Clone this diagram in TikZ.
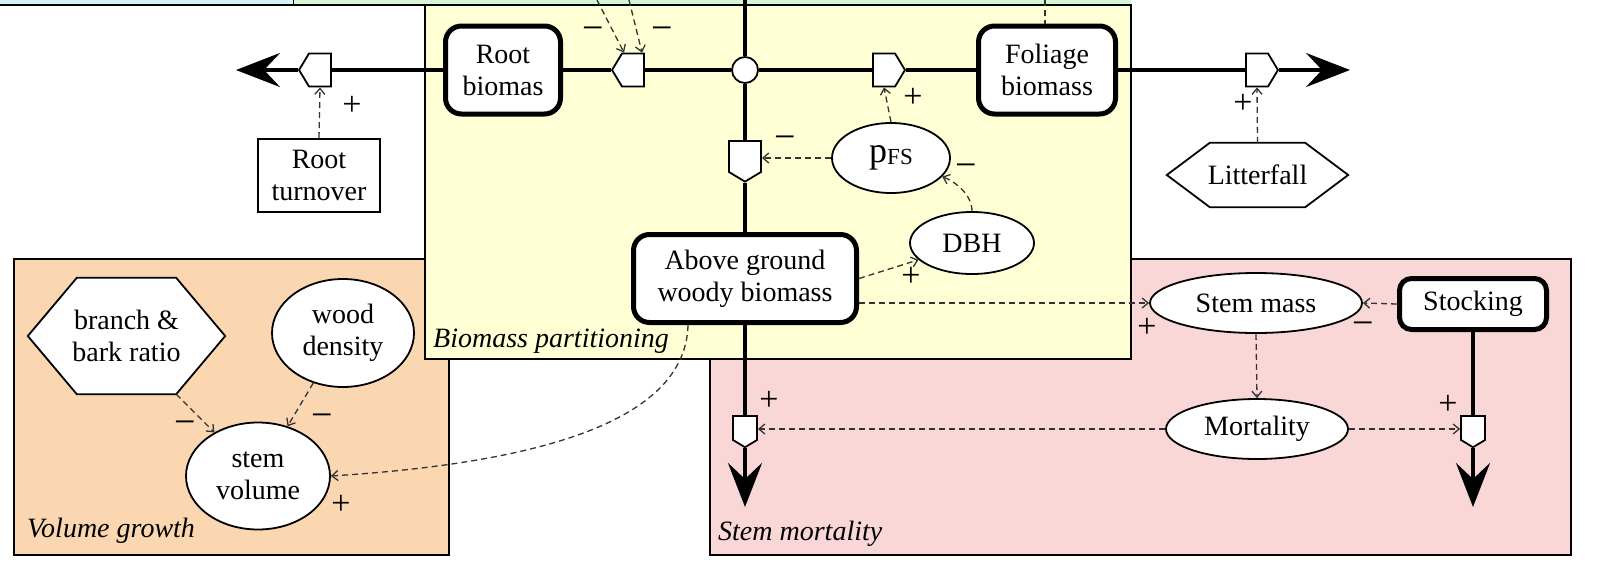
\documentclass[tikz,border=0pt]{standalone}
\usepackage{fontspec}
\setmainfont{Liberation Serif}
\usetikzlibrary{arrows.meta,shapes.symbols,shapes.geometric,calc}
\definecolor{ycol}{RGB}{255,255,213}
\definecolor{ocol}{RGB}{251,215,177}
\definecolor{pcol}{RGB}{250,215,215}
\definecolor{ccol}{RGB}{212,242,248}
\definecolor{gcol}{RGB}{213,245,213}
\begin{document}
\begin{tikzpicture}[x=1pt,y=1pt,
  every node/.style={font=\fontsize{28}{32}\selectfont},
  stock/.style={draw, line width=5pt, rounded corners=16pt, fill=white, align=center, inner sep=0pt},
  aux/.style={draw, line width=1.8pt, fill=white, align=center, inner sep=0pt, ellipse},
  plainbox/.style={draw, line width=1.8pt, fill=white, align=center, inner sep=0pt},
  hexbox/.style={inner sep=0pt, align=center},
  flow/.style={line width=4pt},
  flowarrow/.style={line width=4pt, -{Stealth[length=44pt,width=34pt,inset=16pt]}},
  link/.style={line width=1.3pt, dash pattern=on 6pt off 4pt, black!80, -{Straight Barb[length=6pt,width=10pt]}},
  plainlink/.style={line width=1.3pt, dash pattern=on 6pt off 4pt, black!80},
  valve/.style={signal, draw, line width=1.8pt, fill=white, inner sep=0pt, signal pointer angle=118},
  sign/.style={inner sep=0pt, font=\fontsize{34}{34}\selectfont},
  minus/.style={inner sep=0pt, font=\fontsize{38}{38}\selectfont},
  region/.style={draw, line width=1.5pt},
  lbl/.style={font=\fontsize{28}{32}\selectfont\itshape, anchor=base west, inner sep=0pt}
]
\useasboundingbox (0,0) rectangle (1619,-565);
% top bands
\fill[ccol] (0,0) rectangle (293,-4);
\fill[gcol] (293,0) rectangle (1131,-4);
\draw[line width=1pt] (293,0) -- (293,-5);
% regions
\draw[region, fill=ocol] (14,-259) rectangle (449,-555);
\draw[region, fill=pcol] (710,-259) rectangle (1571,-555);
\draw[region, fill=ycol] (425,-5) rectangle (1131,-359);
\draw[line width=1.5pt] (0,-5) -- (1131,-5);
% region labels
\node[lbl] (lbio) at (433,-347) {Biomass partitioning};
\node[lbl] (lvol) at (27,-537) {Volume growth};
\node[lbl] (lmort) at (718,-540) {Stem mortality};

% stocks
\node[stock, minimum width=115pt, minimum height=88pt] (root) at (503,-70) {Root\\biomas};
\node[stock, minimum width=137pt, minimum height=88pt] (foliage) at (1047,-70) {Foliage\\biomass};
\node[stock, minimum width=223pt, minimum height=88pt] (agb) at (745,-278.5) {Above ground\\woody biomass};
\node[stock, rounded corners=12pt, minimum width=147pt, minimum height=51pt] (stocking) at (1473,-304) {Stocking};

% auxiliaries
\node[plainbox, minimum width=122pt, minimum height=73pt] (turnover) at (319,-175.5) {Root\\turnover};
\node[aux, minimum width=118pt, minimum height=70pt] (pfs) at (891,-158) {{\fontsize{36}{36}\selectfont p}\raisebox{-2pt}{\fontsize{23}{23}\selectfont FS}};
\node[aux, minimum width=124pt, minimum height=62pt] (dbh) at (972,-243) {DBH};
\node[aux, minimum width=212pt, minimum height=60pt] (stemmass) at (1256,-303) {Stem mass};
\node[aux, minimum width=182pt, minimum height=60pt] (mort) at (1257,-429) {Mortality};
\node[aux, minimum width=142pt, minimum height=108pt] (wood) at (343,-333) {wood\\density};
\node[aux, minimum width=144pt, minimum height=107pt] (stemvol) at (258,-476) {stem\\volume};

% hexagons
\node[hexbox, minimum width=181pt, minimum height=64pt] (litter) at (1257.5,-175) {};
\draw[line width=1.8pt, fill=white] (litter.west) -- ($(litter.north west)+(43,0)$) -- ($(litter.north east)+(-43,0)$) -- (litter.east) -- ($(litter.south east)+(-43,0)$) -- ($(litter.south west)+(43,0)$) -- cycle;
\node[hexbox] (littertext) at (litter) {Litterfall};
\node[hexbox, minimum width=197pt, minimum height=116pt] (branch) at (126.5,-336) {};
\draw[line width=1.8pt, fill=white] (branch.west) -- ($(branch.north west)+(49,0)$) -- ($(branch.north east)+(-49,0)$) -- (branch.east) -- ($(branch.south east)+(-49,0)$) -- ($(branch.south west)+(49,0)$) -- cycle;
\node[hexbox] (branchtext) at (branch) {branch \&\\bark ratio};

% valves and junction
\node[valve, signal to=west, minimum width=32pt, minimum height=33pt] (vRT) at (320,-70) {};
\node[valve, signal to=west, minimum width=32pt, minimum height=33pt] (vRB) at (633,-70) {};
\node[valve, signal to=east, minimum width=32pt, minimum height=33pt] (vF) at (884,-70) {};
\node[valve, signal to=east, minimum width=32pt, minimum height=33pt] (vL) at (1257,-70) {};
\node[valve, signal to=south, minimum width=32pt, minimum height=31pt] (vA) at (745,-156.5) {};
\node[valve, signal to=south, minimum width=24pt, minimum height=24pt] (vM1) at (745,-428) {};
\node[valve, signal to=south, minimum width=24pt, minimum height=24pt] (vM2) at (1473,-428) {};
\node[draw, circle, line width=1.8pt, fill=white, minimum size=26pt, inner sep=0pt] (circ) at (745,-70) {};

% free ends
\coordinate (tipL) at (236,-70);
\coordinate (tipR) at (1350,-70);
\coordinate (tipA) at (745,-507);
\coordinate (tipS) at (1473,-507);
\coordinate (topA) at (745,0);
\coordinate (t1) at (597,0);
\coordinate (t2) at (629,0);
\coordinate (t3) at (1045,0);

% flows
\draw[flow] (root.west) -- (vRT.east);
\draw[flowarrow] (vRT.west) -- (tipL);
\draw[flow] (circ.west) -- (vRB.east);
\draw[flow] (vRB.west) -- (root.east);
\draw[flow] (circ.east) -- (vF.west);
\draw[flow] (vF.east) -- (foliage.west);
\draw[flow] (foliage.east) -- (vL.west);
\draw[flowarrow] (vL.east) -- (tipR);
\draw[flow] (topA) -- (circ.north);
\draw[flow] (circ.south) -- (vA.north);
\draw[flow] (vA.south) -- (agb.north);
\draw[flow] (agb.south) -- (vM1.north);
\draw[flowarrow] (vM1.south) -- (tipA);
\draw[flow] (stocking.south) -- (vM2.north);
\draw[flowarrow] (vM2.south) -- (tipS);

% information links
\draw[link] (turnover.north) -- (vRT.south);
\draw[link] (t1) -- ($(vRB.north)+(-9,0)$);
\draw[link] (t2) -- ($(vRB.north)+(9,0)$);
\draw[plainlink] (t3) -- (t3 |- foliage.north);
\draw[link] (pfs.north) -- (vF.south);
\draw[link] (pfs.west) -- (pfs.west -| vA.east);
\draw[link] (dbh.north) .. controls (972,-195) and (956,-182) .. (pfs.-20);
\draw[link] (agb.east) -- (dbh);
\draw[link] (litter.north) -- (vL.south);
\draw[link] (agb.east |- stemmass.west) -- (stemmass.west);
\draw[link] (stocking.west) -- (stemmass.east);
\draw[link] (stemmass.south) -- (mort.north);
\draw[link] (mort.west) -- (mort.west -| vM1.east);
\draw[link] (mort.east) -- (mort.east -| vM2.west);
\draw[link] ($(branch.south east)+(-49,0)$) -- (stemvol);
\draw[link] (wood) -- (stemvol);
\draw[link] ($(agb.south west)!0.25!(agb.south east)$) .. controls (686,-405) and (585,-460) .. (stemvol.east);

% signs
\node[sign] (s1) at (352,-106) {+};
\node[minus] (s2) at (593,-34) {−};
\node[minus] (s3) at (662,-34) {−};
\node[sign] (s4) at (913,-98) {+};
\node[sign] (s5) at (1243,-104) {+};
\node[minus] (s6) at (785,-143) {−};
\node[minus] (s7) at (966,-171) {−};
\node[sign] (s8) at (911,-277) {+};
\node[sign] (s9) at (1147,-328) {+};
\node[minus] (s10) at (1363,-329) {−};
\node[sign] (s11) at (769,-401) {+};
\node[sign] (s12) at (1448,-405) {+};
\node[minus] (s13) at (185,-428) {−};
\node[minus] (s14) at (322,-421) {−};
\node[sign] (s15) at (341,-505) {+};
\end{tikzpicture}
\end{document}
